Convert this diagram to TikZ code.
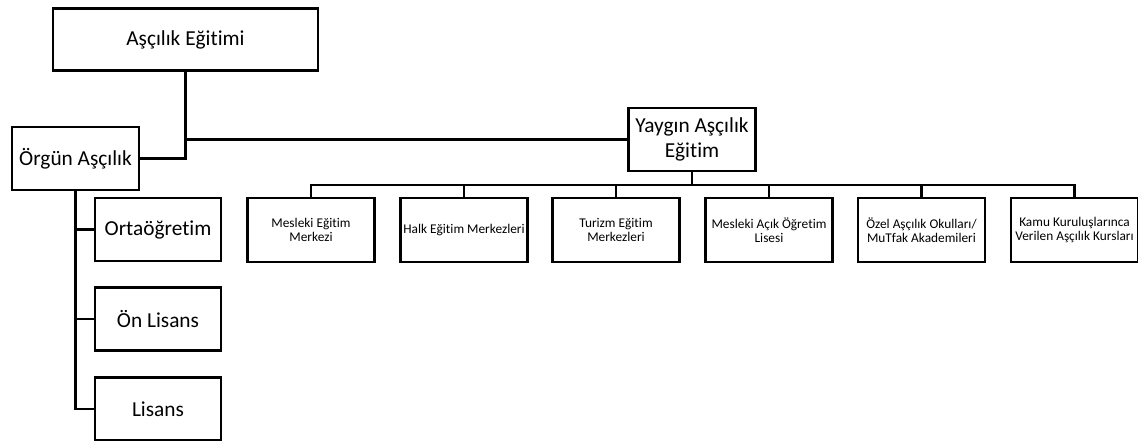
\documentclass[tikz,border=0pt]{standalone}
\usepackage{fontspec}
\setmainfont{Carlito}[Ligatures=NoCommon]
\tikzset{
  box/.style={draw, line width=1.8pt, align=center, inner sep=0pt,
    minimum width=95.25pt, minimum height=47.25pt,
    font=\fontsize{16}{19}\selectfont},
  smallbox/.style={box, minimum height=48pt, font=\fontsize{10}{10.5}\selectfont},
  link/.style={line width=1.9pt}
}
\begin{document}
\begin{tikzpicture}[x=0.75pt,y=-0.75pt]
\useasboundingbox (0,0) rectangle (1138,441);

\node[box, minimum width=198.75pt, minimum height=46.5pt] (egitim) at (185.5,39.5) {Aşçılık Eğitimi};
\node[box] (orgun) at (75.5,158.5) {Örgün Aşçılık};
\node[box] (yaygin) at (692,139.5) {Yaygın Aşçılık\\Eğitim};

% orgun branch
\node[box, minimum width=94.5pt] (orta) at (158,229.5) {Ortaöğretim};
\node[box, minimum width=94.5pt] (onlisans) at (158,319) {Ön Lisans};
\node[box, minimum width=94.5pt] (lisans) at (158,409) {Lisans};

% yaygin branch
\node[smallbox] (mem) at (311,230) {Mesleki Eğitim\\Merkezi};
\node[smallbox] (hem) at (464,230) {Halk Eğitim Merkezleri};
\node[smallbox] (tem) at (616,230) {Turizm Eğitim\\Merkezleri};
\node[smallbox] (maol) at (769,230) {Mesleki Açık Öğretim\\Lisesi};
\node[smallbox] (ozel) at (921.5,230) {Özel Aşçılık Okulları/\\MuTfak Akademileri};
\node[smallbox] (kamu) at (1074.5,230) {Kamu Kuruluşlarınca\\Verilen Aşçılık Kursları};

\coordinate (bus) at (692,185);

\draw[link] (egitim.south) |- (orgun.east);
\draw[link] (egitim.south |- yaygin.west) -- (yaygin.west);

\draw[link] (orgun.south) |- (lisans.west);
\draw[link] (orgun.south |- orta.west) -- (orta.west);
\draw[link] (orgun.south |- onlisans.west) -- (onlisans.west);

\draw[link] (yaygin.south) -- (bus);
\draw[link] (mem.north) -- (mem.north |- bus) -- (kamu.north |- bus) -- (kamu.north);
\foreach \n in {hem,tem,maol,ozel}
  \draw[link] (\n.north) -- (\n.north |- bus);
\end{tikzpicture}
\end{document}
